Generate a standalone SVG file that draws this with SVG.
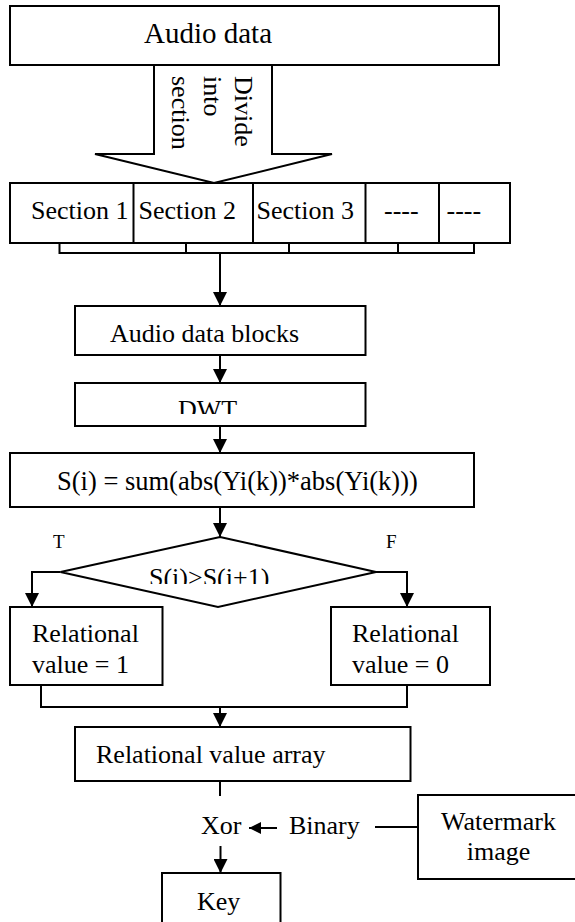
<svg xmlns="http://www.w3.org/2000/svg" width="575" height="922" viewBox="0 0 575 922">
<style>
text{font-family:"Liberation Serif","Times New Roman",serif;font-size:26px;fill:#000}
.box{fill:#fff;stroke:#000;stroke-width:2}
.ln{fill:none;stroke:#000;stroke-width:2}
.small{font-size:19px}
</style>
<defs>
<marker id="ah" markerUnits="userSpaceOnUse" markerWidth="14" markerHeight="14" refX="14" refY="7" orient="auto">
<path d="M0,0 L14,7 L0,14 z" fill="#000"/>
</marker>
<marker id="ahs" markerUnits="userSpaceOnUse" markerWidth="12" markerHeight="12" refX="12" refY="6" orient="auto">
<path d="M0,0 L12,6 L0,12 z" fill="#000"/>
</marker>
<clipPath id="clipDWT"><rect x="75" y="383" width="290" height="31"/></clipPath>
<clipPath id="clipDia"><rect x="60" y="537" width="316" height="47"/></clipPath>
</defs>

<g id="audio-data">
<rect class="box" x="10" y="6" width="489" height="59"/>
<text x="144" y="43" style="font-size:29px">Audio data</text>
</g>

<g id="divide-arrow">
<path class="ln" d="M154,65 V154 H95 L214,183 L332,154 H272 V65"/>
<text transform="translate(235,76) rotate(90)"><tspan x="0" y="0">Divide</tspan><tspan x="0" y="31">into</tspan><tspan x="0" y="63">section</tspan></text>
</g>

<g id="sections">
<rect class="box" x="10" y="183" width="500" height="60"/>
<line class="ln" x1="133.5" y1="183" x2="133.5" y2="243"/>
<line class="ln" x1="253" y1="183" x2="253" y2="243"/>
<line class="ln" x1="365.5" y1="183" x2="365.5" y2="243"/>
<line class="ln" x1="439" y1="183" x2="439" y2="243"/>
<text x="31" y="219">Section 1</text>
<text x="138.5" y="219">Section 2</text>
<text x="256.5" y="219">Section 3</text>
<text x="384" y="219">----</text>
<text x="446.5" y="219">----</text>
</g>

<g id="audio-data-blocks">
<rect class="box" x="75" y="306" width="290.5" height="49"/>
<text x="110" y="342">Audio data blocks</text>
</g>

<g id="dwt">
<rect class="box" x="75" y="383" width="290.5" height="43"/>
<text x="178" y="418" clip-path="url(#clipDWT)">DWT</text>
</g>

<g id="sum">
<rect class="box" x="10" y="453" width="464" height="54"/>
<text x="57" y="490" style="font-size:26.5px">S(i) = sum(abs(Yi(k))*abs(Yi(k)))</text>
</g>

<g id="decision">
<path class="box" d="M220,537 L376,572 L218,607 L60.5,572 z"/>
<text x="149" y="585.5" clip-path="url(#clipDia)">S(i)&gt;S(i+1)</text>
<text class="small" x="53" y="548">T</text>
<text class="small" x="386" y="548">F</text>
</g>

<g id="rel1">
<rect class="box" x="10" y="607" width="152.5" height="78"/>
<text x="32" y="642">Relational</text>
<text x="32" y="673">value = 1</text>
</g>

<g id="rel0">
<rect class="box" x="331" y="607" width="159" height="78"/>
<text x="352" y="642">Relational</text>
<text x="352" y="673">value = 0</text>
</g>

<g id="rel-array">
<rect class="box" x="75" y="727" width="335.5" height="54"/>
<text x="96" y="763">Relational value array</text>
</g>

<g id="xor">
<text x="201" y="834">Xor</text>
</g>

<g id="binary">
<text x="289" y="834">Binary</text>
</g>

<g id="watermark">
<rect class="box" x="418" y="795" width="162" height="84"/>
<text x="498.5" y="830" text-anchor="middle">Watermark</text>
<text x="498.5" y="860" text-anchor="middle">image</text>
</g>

<g id="key">
<rect class="box" x="162" y="873" width="118.5" height="60"/>
<text x="197" y="910">Key</text>
</g>

<g id="connectors">
<path class="ln" d="M59.5,243 V253 H474 V243"/>
<line class="ln" x1="186" y1="243" x2="186" y2="253"/>
<line class="ln" x1="289" y1="243" x2="289" y2="253"/>
<line class="ln" x1="398" y1="243" x2="398" y2="253"/>
<line class="ln" x1="220" y1="253" x2="220" y2="306" marker-end="url(#ah)"/>
<line class="ln" x1="220" y1="355" x2="220" y2="383" marker-end="url(#ah)"/>
<line class="ln" x1="220" y1="426" x2="220" y2="453" marker-end="url(#ah)"/>
<line class="ln" x1="220" y1="507" x2="220" y2="537" marker-end="url(#ah)"/>
<path class="ln" d="M60.5,572 H32 V607" marker-end="url(#ah)"/>
<path class="ln" d="M376,572 H407 V607" marker-end="url(#ah)"/>
<path class="ln" d="M41,685 V707 H407 V685"/>
<line class="ln" x1="220" y1="707" x2="220" y2="727" marker-end="url(#ah)"/>
<line class="ln" x1="220" y1="781" x2="220" y2="796"/>
<line class="ln" x1="277" y1="828" x2="249" y2="828" marker-end="url(#ahs)"/>
<line class="ln" x1="375" y1="827" x2="418" y2="827"/>
<line class="ln" x1="220.5" y1="846" x2="220.5" y2="873" marker-end="url(#ah)"/>
</g>
</svg>
